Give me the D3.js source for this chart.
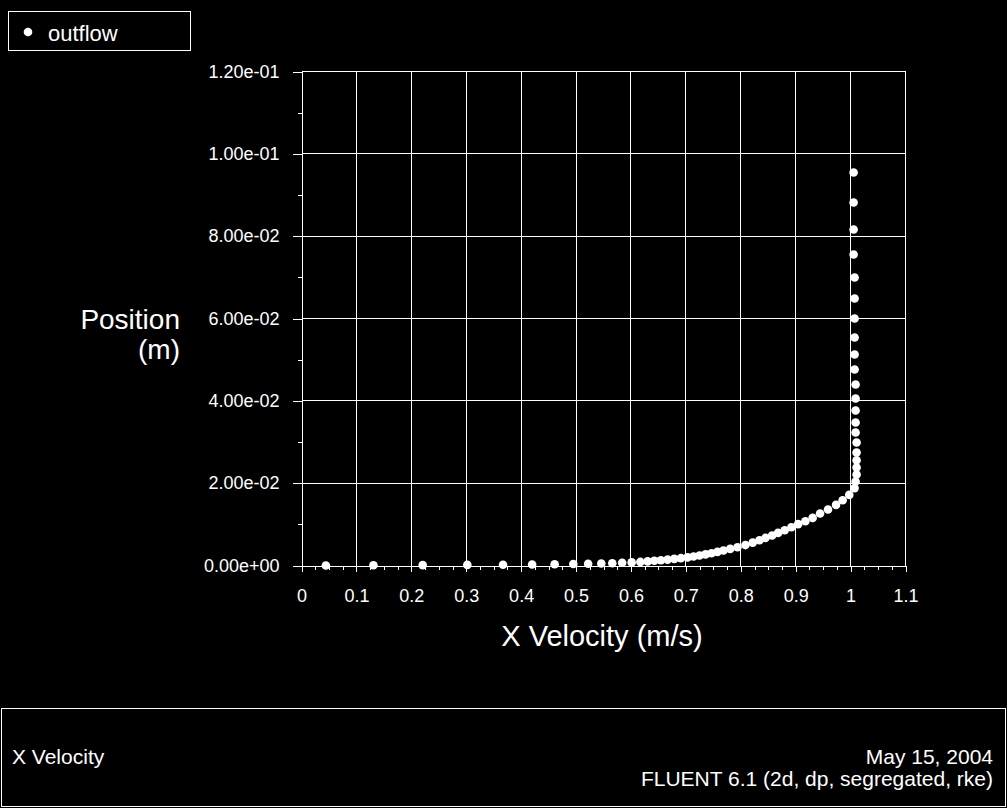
<!DOCTYPE html>
<html>
<head>
<meta charset="utf-8">
<script src="https://cdn.jsdelivr.net/npm/d3@7"></script>
<style>
  html, body { margin: 0; padding: 0; background: #000; }
  svg { display: block; }
  text { font-family: "Liberation Sans", Arial, Helvetica, sans-serif; fill: #fff; }
</style>
</head>
<body>
<div id="chart"></div>
<script>
// data (outflow profile)
const velocity = [
  0.0444, 0.131, 0.2207, 0.302, 0.367, 0.42, 0.461, 0.495, 0.522, 0.546,
  0.566, 0.584, 0.6013, 0.6171, 0.6304, 0.6425, 0.6545, 0.6667, 0.6789, 0.6909,
  0.7031, 0.714, 0.7249, 0.7358, 0.7467, 0.7576, 0.7685, 0.7807, 0.794, 0.8085,
  0.8218, 0.834, 0.8449, 0.8571, 0.868, 0.88, 0.8922, 0.9044, 0.9176, 0.9309,
  0.9444, 0.9589, 0.9735, 0.9855, 0.9976, 1.0073, 1.0091, 1.0109, 1.0109, 1.0109,
  1.0109, 1.0109, 1.0091, 1.0091, 1.0091, 1.0091, 1.0091, 1.0073, 1.0073, 1.0073,
  1.0073, 1.0073, 1.0073, 1.0055, 1.0055, 1.0055, 1.0055,
];
const position = [
  0.0, 0.00005, 0.0001, 0.00015, 0.0002, 0.00025, 0.0003, 0.00036, 0.00042, 0.00048,
  0.00056, 0.00065, 0.00075, 0.00087, 0.001, 0.00114, 0.00128, 0.00143, 0.0016, 0.00178,
  0.00198, 0.0022, 0.00244, 0.0027, 0.00298, 0.0033, 0.00364, 0.00403, 0.00445, 0.00496,
  0.00555, 0.00612, 0.0067, 0.00729, 0.00792, 0.00857, 0.0093, 0.01005, 0.01076, 0.01156,
  0.01263, 0.0136, 0.01472, 0.01586, 0.01715, 0.0188, 0.0204, 0.02211, 0.02381, 0.02558,
  0.02745, 0.02988, 0.03231, 0.03474, 0.03765, 0.04057, 0.04397, 0.04761, 0.05126, 0.05538,
  0.06, 0.06486, 0.06996, 0.07555, 0.08162, 0.08818, 0.09547,
];
const xTicks = [0, 0.1, 0.2, 0.3, 0.4, 0.5, 0.6, 0.7, 0.8, 0.9, 1, 1.1];
const xMinorTicks = d3.range(0, 44).map((i) => i * 0.025).filter((v, i) => i % 4 !== 0);
const yTicks = [0, 0.02, 0.04, 0.06, 0.08, 0.1, 0.12];
const yMinorTicks = [0.01, 0.03, 0.05, 0.07, 0.09, 0.11];
const seriesName = "outflow";
const xTitle = "X Velocity (m/s)";
const yTitle = ["Position", "(m)"];
const footerLeft = "X Velocity";
const footerRight = ["May 15, 2004", "FLUENT 6.1 (2d, dp, segregated, rke)"];

const dataset = velocity.map((v, i) => ({ v: v, p: position[i] }));

const width = 1007;
const height = 808;
const plot = { left: 301.5, right: 905.5, top: 71.5, bottom: 565.5 };

// exponent written with two digits, like 1.20e-01
const sciFormat = (d) => {
  const s = d3.format(".2e")(d);
  return s.replace(/e([+-])(\d)$/, "e$10$2");
};

// draw canvas
const svg = d3
  .select("#chart")
  .append("svg")
  .attr("width", width)
  .attr("height", height)
  .style("background", "#000");

// scales
const xScale = d3.scaleLinear().domain([0, 1.1]).range([plot.left, plot.right]);
const yScale = d3.scaleLinear().domain([0, 0.12]).range([plot.bottom, plot.top]);

// grid
const grid = svg.append("g").attr("stroke", "#fff").attr("stroke-width", 1)
  .attr("shape-rendering", "crispEdges");

grid.selectAll(".hgrid")
  .data(yTicks.slice(1))
  .enter()
  .append("line")
  .attr("x1", plot.left)
  .attr("x2", plot.right)
  .attr("y1", (d) => yScale(d))
  .attr("y2", (d) => yScale(d));

grid.selectAll(".vgrid")
  .data(xTicks.slice(1))
  .enter()
  .append("line")
  .attr("x1", (d) => xScale(d))
  .attr("x2", (d) => xScale(d))
  .attr("y1", plot.top)
  .attr("y2", plot.bottom);

// axes
const styleAxis = (g) => {
  g.select(".domain").attr("stroke", "#fff");
  g.selectAll(".tick line").attr("stroke", "#fff");
  g.selectAll(".tick text").attr("fill", "#fff").style("font-size", "18px")
    .style("font-family", '"Liberation Sans", Arial, sans-serif');
  g.attr("shape-rendering", "crispEdges");
};

svg.append("g")
  .attr("transform", `translate(0, ${plot.bottom})`)
  .call(d3.axisBottom(xScale).tickValues(xMinorTicks).tickSize(4).tickFormat("").tickSizeOuter(0))
  .call(styleAxis);

svg.append("g")
  .attr("transform", `translate(0, ${plot.bottom})`)
  .call(d3.axisBottom(xScale).tickValues(xTicks).tickSize(6).tickPadding(18).tickSizeOuter(0)
    .tickFormat((d) => d3.format("")(+d.toFixed(1))))
  .call(styleAxis);

svg.append("g")
  .attr("transform", `translate(${plot.left}, 0)`)
  .call(d3.axisLeft(yScale).tickValues(yMinorTicks).tickSize(4).tickFormat("").tickSizeOuter(0))
  .call(styleAxis);

svg.append("g")
  .attr("transform", `translate(${plot.left}, 0)`)
  .call(d3.axisLeft(yScale).tickValues(yTicks).tickSize(9).tickPadding(13).tickSizeOuter(0)
    .tickFormat(sciFormat))
  .call(styleAxis);

// axis titles
svg.append("text")
  .attr("x", 602)
  .attr("y", 646)
  .attr("text-anchor", "middle")
  .style("font-size", "29px")
  .text(xTitle);

svg.append("text")
  .attr("text-anchor", "end")
  .style("font-size", "28px")
  .selectAll("tspan")
  .data(yTitle)
  .enter()
  .append("tspan")
  .attr("x", 180)
  .attr("y", (d, i) => 329 + i * 30)
  .text((d) => d);

// points
svg.append("g")
  .selectAll("circle")
  .data(dataset)
  .enter()
  .append("circle")
  .attr("cx", (d) => xScale(d.v))
  .attr("cy", (d) => yScale(d.p))
  .attr("r", 4.3)
  .attr("fill", "#fff");

// legend
const legend = svg.append("g");
legend.append("rect")
  .attr("x", 8.5).attr("y", 11.5).attr("width", 182).attr("height", 39)
  .attr("fill", "none").attr("stroke", "#fff").attr("shape-rendering", "crispEdges");
legend.append("circle").attr("cx", 28).attr("cy", 32).attr("r", 4.3).attr("fill", "#fff");
legend.append("text").attr("x", 48).attr("y", 40.5).style("font-size", "22px").text(seriesName);

// footer box
const footer = svg.append("g");
footer.append("rect")
  .attr("x", 1.5).attr("y", 708.5).attr("width", 1004).attr("height", 98)
  .attr("fill", "none").attr("stroke", "#fff").attr("shape-rendering", "crispEdges");
footer.append("text").attr("x", 12).attr("y", 764).style("font-size", "21px").text(footerLeft);
footer.selectAll(".fr")
  .data(footerRight)
  .enter()
  .append("text")
  .attr("x", 993)
  .attr("y", (d, i) => 764 + i * 22)
  .attr("text-anchor", "end")
  .style("font-size", "21px")
  .text((d) => d);
</script>
</body>
</html>
